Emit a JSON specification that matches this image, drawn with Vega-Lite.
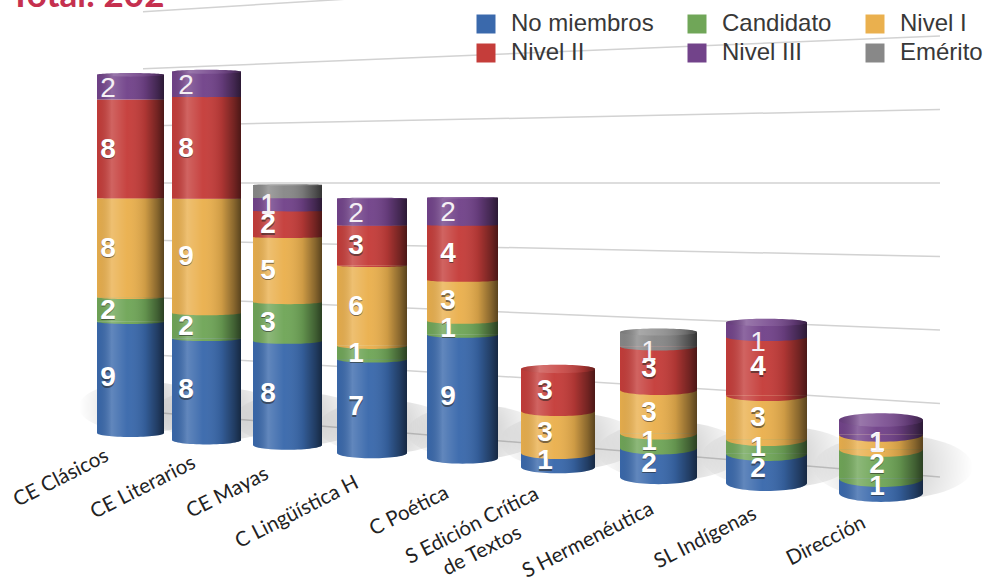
{
"$schema":"https://vega.github.io/schema/vega-lite/v6.json",
"width":990,"height":582,"padding":0,"autosize":{"type":"none"},
"background":"white",
"view":{"stroke":null},
"datasets":{
"segmentos":[
{"cat":"CE Clásicos","nivel":"No miembros","valor":9},{"cat":"CE Clásicos","nivel":"Candidato","valor":2},{"cat":"CE Clásicos","nivel":"Nivel I","valor":8},{"cat":"CE Clásicos","nivel":"Nivel II","valor":8},{"cat":"CE Clásicos","nivel":"Nivel III","valor":2},
{"cat":"CE Literarios","nivel":"No miembros","valor":8},{"cat":"CE Literarios","nivel":"Candidato","valor":2},{"cat":"CE Literarios","nivel":"Nivel I","valor":9},{"cat":"CE Literarios","nivel":"Nivel II","valor":8},{"cat":"CE Literarios","nivel":"Nivel III","valor":2},
{"cat":"CE Mayas","nivel":"No miembros","valor":8},{"cat":"CE Mayas","nivel":"Candidato","valor":3},{"cat":"CE Mayas","nivel":"Nivel I","valor":5},{"cat":"CE Mayas","nivel":"Nivel II","valor":2},{"cat":"CE Mayas","nivel":"Nivel III","valor":1},{"cat":"CE Mayas","nivel":"Emérito","valor":1},
{"cat":"C Lingüística H","nivel":"No miembros","valor":7},{"cat":"C Lingüística H","nivel":"Candidato","valor":1},{"cat":"C Lingüística H","nivel":"Nivel I","valor":6},{"cat":"C Lingüística H","nivel":"Nivel II","valor":3},{"cat":"C Lingüística H","nivel":"Nivel III","valor":2},
{"cat":"C Poética","nivel":"No miembros","valor":9},{"cat":"C Poética","nivel":"Candidato","valor":1},{"cat":"C Poética","nivel":"Nivel I","valor":3},{"cat":"C Poética","nivel":"Nivel II","valor":4},{"cat":"C Poética","nivel":"Nivel III","valor":2},
{"cat":"S Edición Crítica de Textos","nivel":"No miembros","valor":1},{"cat":"S Edición Crítica de Textos","nivel":"Nivel I","valor":3},{"cat":"S Edición Crítica de Textos","nivel":"Nivel II","valor":3},
{"cat":"S Hermenéutica","nivel":"No miembros","valor":2},{"cat":"S Hermenéutica","nivel":"Candidato","valor":1},{"cat":"S Hermenéutica","nivel":"Nivel I","valor":3},{"cat":"S Hermenéutica","nivel":"Nivel II","valor":3},{"cat":"S Hermenéutica","nivel":"Emérito","valor":1},
{"cat":"SL Indígenas","nivel":"No miembros","valor":2},{"cat":"SL Indígenas","nivel":"Candidato","valor":1},{"cat":"SL Indígenas","nivel":"Nivel I","valor":3},{"cat":"SL Indígenas","nivel":"Nivel II","valor":4},{"cat":"SL Indígenas","nivel":"Nivel III","valor":1},
{"cat":"Dirección","nivel":"No miembros","valor":1},{"cat":"Dirección","nivel":"Candidato","valor":2},{"cat":"Dirección","nivel":"Nivel I","valor":1},{"cat":"Dirección","nivel":"Nivel III","valor":1}
],
"lineas":[{"marca":0},{"marca":1},{"marca":2},{"marca":3},{"marca":4},{"marca":5},{"marca":6},{"marca":7}],
"etiquetas":[{"etiqueta":"CE Clásicos"},{"etiqueta":"CE Literarios"},{"etiqueta":"CE Mayas"},{"etiqueta":"C Lingüística H"},{"etiqueta":"C Poética"},{"etiqueta":"S Edición Crítica"},{"etiqueta":"de Textos"},{"etiqueta":"S Hermenéutica"},{"etiqueta":"SL Indígenas"},{"etiqueta":"Dirección"}],
"titulo":[{"texto":"Total: 202"}]
},
"data":{"name":"segmentos"},
"transform":[
{"calculate":"indexof(['No miembros','Candidato','Nivel I','Nivel II','Nivel III','Emérito'],datum.nivel)","as":"orden"},
{"calculate":"indexof(['CE Clásicos','CE Literarios','CE Mayas','C Lingüística H','C Poética','S Edición Crítica de Textos','S Hermenéutica','SL Indígenas','Dirección'],datum.cat)","as":"i"},
{"stack":"valor","groupby":["cat"],"sort":[{"field":"orden","order":"ascending"}],"as":["acum0","acum1"]},
{"joinaggregate":[{"op":"max","field":"acum1","as":"total"}],"groupby":["cat"]},
{"calculate":"[433,440,445,453,458,467,477,483,493][datum.i]","as":"base"},
{"calculate":"[12.35,12.7,13,13.4,13.7,14,14.5,14.6,14.6][datum.i]","as":"unidad"},
{"calculate":"[97,172,253,337,427,521,620,726,839][datum.i]","as":"izq"},
{"calculate":"[164,241,322,407,498,595,697,807,923][datum.i]","as":"der"},
{"calculate":"[108,186,268,356,448,545,649,758,877][datum.i]","as":"xtexto"},
{"calculate":"(datum.izq+datum.der)/2","as":"xc"},
{"calculate":"pow(datum.der-datum.izq,2)","as":"area"},
{"calculate":"datum.base-datum.acum0*datum.unidad","as":"y0"},
{"calculate":"datum.base-datum.acum1*datum.unidad","as":"y1"},
{"calculate":"0.00048+0.000026*datum.i","as":"k"},
{"calculate":"'M-1 0A1 '+format(max(0.001,(datum.y0-185)*datum.k),'.3f')+' 0 0 0 1 0Z'","as":"bulto"},
{"calculate":"'M-1 0A1 '+format(max(0.02,abs(datum.y1-185)*datum.k),'.3f')+' 0 1 1 1 0A1 '+format(max(0.02,abs(datum.y1-185)*datum.k),'.3f')+' 0 1 1 -1 0Z'","as":"tapa"},
{"calculate":"(datum.y0+datum.y1)/2+(datum.acum1==datum.total&&datum.valor==1?(datum.i==8?17:13):(datum.acum1==datum.total&&datum.valor==2?2:1))","as":"ytexto"}
],
"encoding":{
"x":{"field":"izq","type":"quantitative","scale":{"domain":[0,990],"nice":false,"zero":false},"axis":null},
"y":{"field":"y1","type":"quantitative","scale":{"domain":[0,582],"nice":false,"zero":false,"reverse":true},"axis":null}
},
"layer":[
{"data":{"name":"lineas"},
 "transform":[{"calculate":"477-73.5*datum.marca","as":"yd"},{"calculate":"183+(datum.yd-183)*0.777","as":"yi"},{"calculate":"143","as":"xi"},{"calculate":"940","as":"xd"}],
 "mark":{"type":"rule","color":"#d2d2d2","strokeWidth":1.5},
 "encoding":{"x":{"field":"xi","type":"quantitative"},"x2":{"field":"xd"},"y":{"field":"yi","type":"quantitative"},"y2":{"field":"yd"}}},
{"transform":[{"filter":"datum.acum0==0"},{"calculate":"datum.xc+12","as":"xs"},{"calculate":"datum.base-26","as":"ys"},{"calculate":"pow((datum.der-datum.izq)*1.9,2)","as":"areas"}],
 "mark":{"type":"point","filled":true,"opacity":1,"strokeWidth":0,"shape":"M-1 0A1 .4 0 1 1 1 0A1 .4 0 1 1 -1 0Z","fill":{"gradient":"radial","x1":0.5,"y1":0.5,"r1":0,"x2":0.5,"y2":0.5,"r2":0.5,"stops":[{"offset":0,"color":"rgba(0,0,0,0.24)"},{"offset":0.55,"color":"rgba(0,0,0,0.1)"},{"offset":1,"color":"rgba(0,0,0,0)"}]}},
 "encoding":{"x":{"field":"xs","type":"quantitative"},"y":{"field":"ys","type":"quantitative"},"size":{"field":"areas","type":"quantitative","scale":null}}},
{"mark":{"type":"rect"},
 "encoding":{"x":{"field":"izq","type":"quantitative"},"x2":{"field":"der"},"y":{"field":"y1","type":"quantitative"},"y2":{"field":"y0"},
 "color":{"field":"nivel","type":"nominal",
  "scale":{"domain":["No miembros","Nivel II","Candidato","Nivel III","Nivel I","Emérito"],"range":["#3a69ac","#c53d3a","#70a658","#72438a","#eab04e","#888888"]},
  "legend":{"title":null,"orient":"none","legendX":474,"legendY":12,"columns":3,"symbolType":"square","symbolSize":361,"symbolStrokeWidth":0,"symbolOpacity":1,"labelFont":"Liberation Sans","labelFontSize":24,"labelColor":"#383838","labelOffset":13,"columnPadding":31,"rowPadding":5,"labelLimit":300}}}},
{"mark":{"type":"point","filled":true,"opacity":1,"strokeWidth":0},
 "encoding":{"x":{"field":"xc","type":"quantitative"},"y":{"field":"y0","type":"quantitative"},"shape":{"field":"bulto","type":"nominal","scale":null},"size":{"field":"area","type":"quantitative","scale":null},"color":{"field":"nivel","type":"nominal","legend":null}}},
{"transform":[{"filter":"datum.acum1==datum.total"},{"calculate":"datum.base","as":"pie"}],
 "mark":{"type":"rect","fill":{"gradient":"linear","x1":0,"y1":0,"x2":1,"y2":0,"stops":[{"offset":0,"color":"rgba(0,0,0,0.03)"},{"offset":0.22,"color":"rgba(255,255,255,0.2)"},{"offset":0.45,"color":"rgba(255,255,255,0.03)"},{"offset":0.72,"color":"rgba(0,0,0,0.12)"},{"offset":0.9,"color":"rgba(0,0,0,0.42)"},{"offset":1,"color":"rgba(0,0,0,0.62)"}]}},
 "encoding":{"x":{"field":"izq","type":"quantitative"},"x2":{"field":"der"},"y":{"field":"y1","type":"quantitative"},"y2":{"field":"pie"}}},
{"transform":[{"filter":"datum.acum0==0"}],
 "mark":{"type":"point","filled":true,"opacity":1,"strokeWidth":0,"fill":{"gradient":"linear","x1":0,"y1":0,"x2":1,"y2":0,"stops":[{"offset":0,"color":"rgba(0,0,0,0.03)"},{"offset":0.22,"color":"rgba(255,255,255,0.2)"},{"offset":0.45,"color":"rgba(255,255,255,0.03)"},{"offset":0.72,"color":"rgba(0,0,0,0.12)"},{"offset":0.9,"color":"rgba(0,0,0,0.42)"},{"offset":1,"color":"rgba(0,0,0,0.62)"}]}},
 "encoding":{"x":{"field":"xc","type":"quantitative"},"y":{"field":"y0","type":"quantitative"},"shape":{"field":"bulto","type":"nominal","scale":null},"size":{"field":"area","type":"quantitative","scale":null}}},
{"transform":[{"filter":"datum.acum1==datum.total"}],
 "mark":{"type":"point","filled":true,"opacity":1,"strokeWidth":0},
 "encoding":{"x":{"field":"xc","type":"quantitative"},"y":{"field":"y1","type":"quantitative"},"shape":{"field":"tapa","type":"nominal","scale":null},"size":{"field":"area","type":"quantitative","scale":null},"color":{"field":"nivel","type":"nominal","legend":null}}},
{"transform":[{"filter":"datum.acum1==datum.total"}],
 "mark":{"type":"point","filled":true,"opacity":1,"strokeWidth":0,"fill":{"gradient":"linear","x1":0,"y1":0,"x2":1,"y2":0,"stops":[{"offset":0,"color":"rgba(0,0,0,0.1)"},{"offset":0.25,"color":"rgba(255,255,255,0.28)"},{"offset":0.55,"color":"rgba(255,255,255,0.12)"},{"offset":0.85,"color":"rgba(0,0,0,0.2)"},{"offset":1,"color":"rgba(0,0,0,0.5)"}]}},
 "encoding":{"x":{"field":"xc","type":"quantitative"},"y":{"field":"y1","type":"quantitative"},"shape":{"field":"tapa","type":"nominal","scale":null},"size":{"field":"area","type":"quantitative","scale":null}}},
{"transform":[{"filter":"datum.nivel!='Nivel III'&&datum.nivel!='Emérito'"}],
 "mark":{"type":"text","font":"Liberation Sans","fontSize":28,"fontWeight":"bold","color":"#222222","opacity":0.55,"baseline":"middle","dy":1.5},
 "encoding":{"x":{"field":"xtexto","type":"quantitative"},"y":{"field":"ytexto","type":"quantitative"},"text":{"field":"valor","type":"quantitative"}}},
{"transform":[{"filter":"datum.nivel!='Nivel III'&&datum.nivel!='Emérito'"}],
 "mark":{"type":"text","font":"Liberation Sans","fontSize":28,"fontWeight":"bold","color":"#ffffff","baseline":"middle"},
 "encoding":{"x":{"field":"xtexto","type":"quantitative"},"y":{"field":"ytexto","type":"quantitative"},"text":{"field":"valor","type":"quantitative"}}},
{"transform":[{"filter":"datum.nivel=='Nivel III'||datum.nivel=='Emérito'"}],
 "mark":{"type":"text","font":"Liberation Sans","fontSize":28,"color":"#f4f0f4","baseline":"middle"},
 "encoding":{"x":{"field":"xtexto","type":"quantitative"},"y":{"field":"ytexto","type":"quantitative"},"text":{"field":"valor","type":"quantitative"}}},
{"data":{"name":"etiquetas"},
 "transform":[{"calculate":"indexof(['CE Clásicos','CE Literarios','CE Mayas','C Lingüística H','C Poética','S Edición Crítica','de Textos','S Hermenéutica','SL Indígenas','Dirección'],datum.etiqueta)","as":"j"},
 {"calculate":"[110,197,270,360,450,540,523,655,758,867][datum.j]","as":"xe"},
 {"calculate":"[460,467,478,487,497,498,537,513,518,527][datum.j]","as":"ye"}],
 "mark":{"type":"text","font":"Lato","fontSize":20.5,"angle":333,"align":"right","baseline":"alphabetic","color":"#222222"},
 "encoding":{"x":{"field":"xe","type":"quantitative"},"y":{"field":"ye","type":"quantitative"},"text":{"field":"etiqueta","type":"nominal"}}},
{"data":{"name":"titulo"},
 "transform":[{"calculate":"10","as":"xt"},{"calculate":"7","as":"yt"}],
 "mark":{"type":"text","font":"Lato","fontSize":35,"fontWeight":"bold","align":"left","baseline":"alphabetic","color":"#c5304f"},
 "encoding":{"x":{"field":"xt","type":"quantitative"},"y":{"field":"yt","type":"quantitative"},"text":{"field":"texto","type":"nominal"}}}
]
}
